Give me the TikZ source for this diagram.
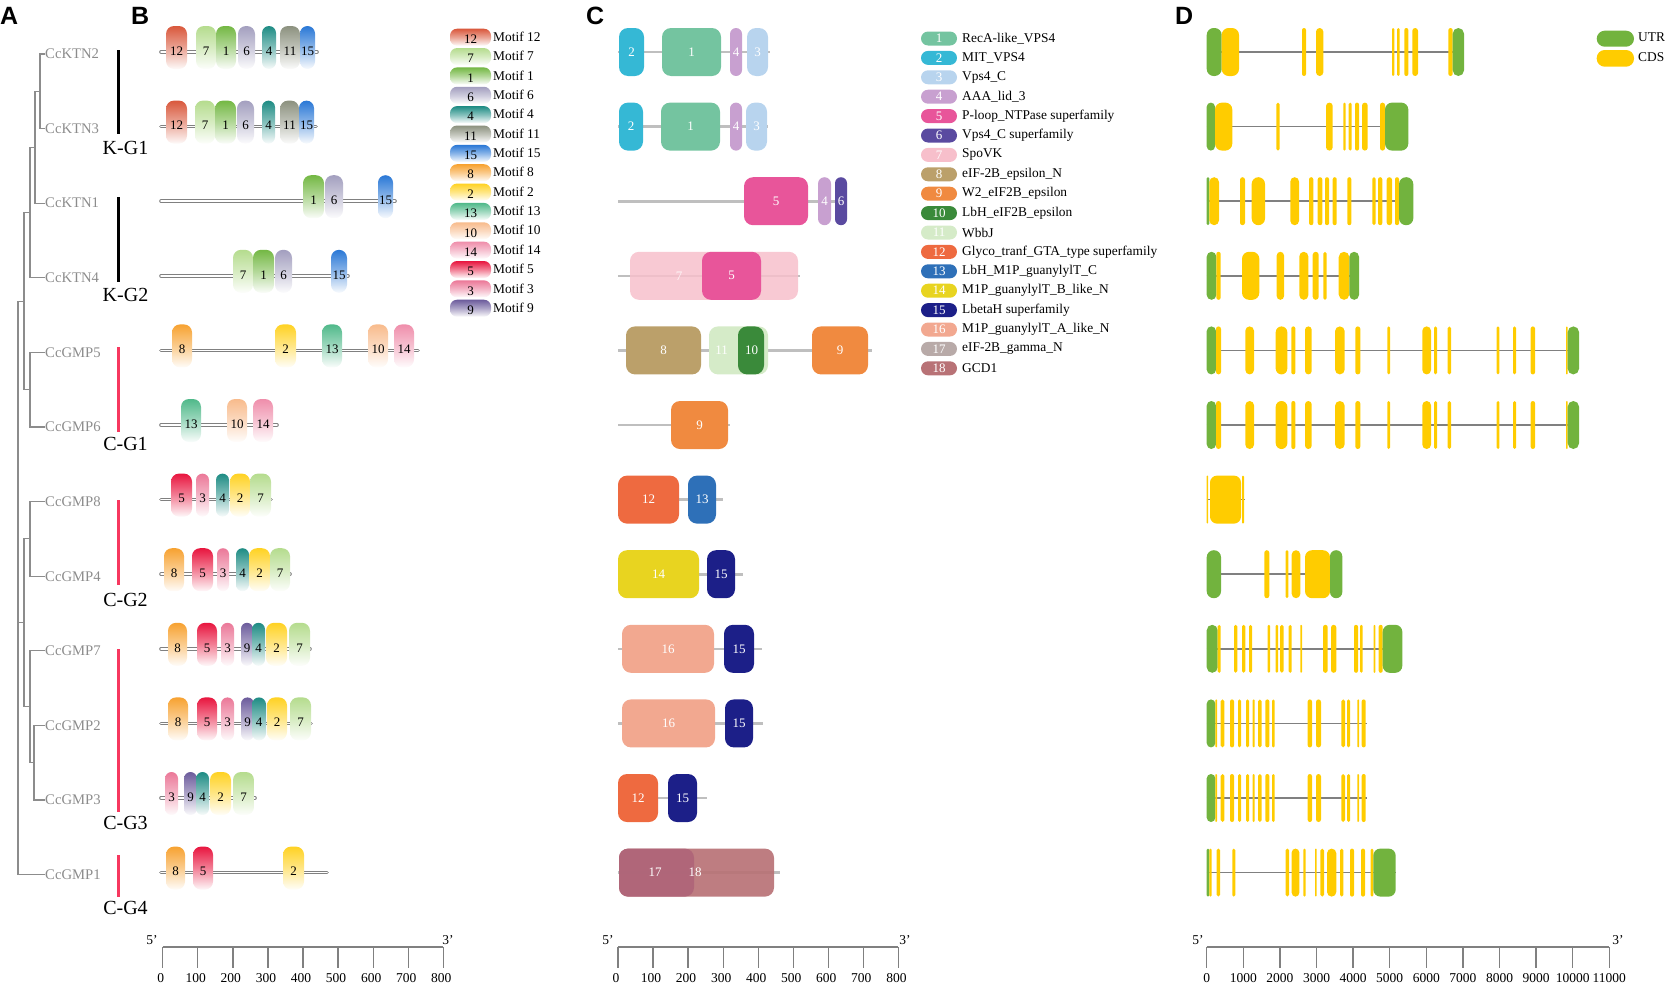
\documentclass[tikz,border=0pt]{standalone}
\usepackage{fontspec}
\setmainfont{Liberation Serif}
\newfontfamily\headfont{Liberation Sans}
% motif colours (panel B)
\definecolor{bm12}{HTML}{D9583C}
\definecolor{bm7}{HTML}{B5DC8E}
\definecolor{bm1}{HTML}{74B844}
\definecolor{bm6}{HTML}{A39FBF}
\definecolor{bm4}{HTML}{1E8C84}
\definecolor{bm11}{HTML}{8C917F}
\definecolor{bm15}{HTML}{2A78D6}
\definecolor{bm8}{HTML}{F7A231}
\definecolor{bm2}{HTML}{FFD223}
\definecolor{bm13}{HTML}{50B98A}
\definecolor{bm10}{HTML}{F8BB8C}
\definecolor{bm14}{HTML}{EF8EAB}
\definecolor{bm5}{HTML}{E8163F}
\definecolor{bm3}{HTML}{EB7898}
\definecolor{bm9}{HTML}{6C5C9C}
% domain colours (panel C)
\definecolor{cd1}{HTML}{74C4A0}
\definecolor{cd2}{HTML}{35B8D5}
\definecolor{cd3}{HTML}{B8D4EE}
\definecolor{cd4}{HTML}{C8A0D0}
\definecolor{cd5}{HTML}{E8559A}
\definecolor{cd6}{HTML}{5A4AA0}
\definecolor{cd7}{HTML}{F7BFCB}
\definecolor{cd8}{HTML}{BBA06A}
\definecolor{cd9}{HTML}{F08A40}
\definecolor{cd10}{HTML}{3A8A3A}
\definecolor{cd11}{HTML}{D5EBC8}
\definecolor{cd12}{HTML}{EE6A40}
\definecolor{cd13}{HTML}{2E70B8}
\definecolor{cd14}{HTML}{E8D420}
\definecolor{cd15}{HTML}{1C1F88}
\definecolor{cd16}{HTML}{F2A890}
\definecolor{cd17}{HTML}{B8AAA8}
\definecolor{cd18}{HTML}{B87276}
\definecolor{cd17b}{HTML}{AF6579}
% gene structure (panel D)
\definecolor{utr}{HTML}{72B33E}
\definecolor{cds}{HTML}{FFCC00}
\definecolor{treegray}{HTML}{8C8C8C}
\definecolor{grpred}{HTML}{F7385F}
\newcount\nid
\newcommand{\mtf}[5]{%
  \pgfmathsetmacro\rr{min(8,(#2-#1)/2)}%
  \shade[top color=#4, bottom color=#4!3, middle color=#4!55, rounded corners=\rr pt] (#1,#3-26) rectangle (#2,#3+17);%
  \global\advance\nid by 1 \edef\nn{m\the\nid}%
  \node[mtxt] (\nn) at ({(#1+#2)/2},#3-1) {#5};%
}
\newcommand{\dombox}[4]{%
  \pgfmathsetmacro\rr{min(9,(#2-#1)/2)}%
  \fill[#4, rounded corners=\rr pt] (#1,#3-24) rectangle (#2,#3+24);%
}
\newcommand{\domlab}[3]{%
  \global\advance\nid by 1 \edef\nn{d\the\nid}%
  \node[dtxt] (\nn) at (#1,#2) {#3};%
}
\newcommand{\dom}[6]{\dombox{#1}{#2}{#3}{#4}\domlab{#6}{#3}{#5}}
\newcommand{\ex}[4]{%
  \pgfmathsetmacro\rr{min(7,(#3-#2)/2)}%
  \fill[#4, rounded corners=\rr pt] (#2,#1-24) rectangle (#3,#1+24);%
}
\begin{document}
\begin{tikzpicture}[x=1pt,y=-1pt,
  panel/.style={font=\headfont\bfseries\fontsize{25}{25}\selectfont, inner sep=0pt, anchor=base west},
  leaf/.style={font=\fontsize{14.7}{15}\selectfont, text=treegray, inner sep=0pt, anchor=west},
  tree/.style={draw=treegray, line width=1.1pt},
  grp/.style={font=\fontsize{20}{20}\selectfont, inner sep=0pt},
  kbar/.style={draw=black, line width=3pt},
  cbar/.style={draw=grpred, line width=3pt},
  mtxt/.style={font=\fontsize{13}{13}\selectfont, inner sep=0pt, text=black},
  dtxt/.style={font=\fontsize{13}{13}\selectfont, inner sep=0pt, text=white},
  legtxt/.style={font=\fontsize{13.4}{14}\selectfont, inner sep=0pt, anchor=west},
  prot/.style={draw=black!50, line width=1pt, double=white, double distance=1.6pt, line cap=round},
  cline/.style={draw=black!25, line width=2.6pt},
  gene/.style={draw=black!50, line width=1.5pt},
  axis/.style={draw=black!50, line width=1.3pt},
  ticktxt/.style={font=\fontsize{13.5}{14}\selectfont, inner sep=0pt}]
\useasboundingbox (0,0) rectangle (1669,988);

% ---------- panel letters ----------
\node[panel] (pA) at (0,24) {A};
\node[panel] (pB) at (131,24) {B};
\node[panel] (pC) at (586,24) {C};
\node[panel] (pD) at (1175,24) {D};

% ---------- panel A: tree ----------
\foreach \name [count=\i] in {CcKTN2,CcKTN3,CcKTN1,CcKTN4,CcGMP5,CcGMP6,CcGMP8,CcGMP4,CcGMP7,CcGMP2,CcGMP3,CcGMP1}
  \node[leaf] (l\i) at (45,{54+74.6*(\i-1)}) {\name};
\coordinate (a1) at (40,91.3);
\coordinate (a2) at (35,147.3);
\coordinate (a3) at (30,212.5);
\coordinate (a4) at (30,389.7);
\coordinate (a5) at (24,301.1);
\coordinate (a6) at (30,538.9);
\coordinate (a7) at (34,762.7);
\coordinate (a8) at (30,706.8);
\coordinate (a9) at (24,622.8);
\coordinate (a10) at (18,301.1);
\draw[tree] (l1.west) -| (a1) |- (l2.west);
\draw[tree] (a1) -| (a2) |- (l3.west);
\draw[tree] (a2) -| (a3) |- (l4.west);
\draw[tree] (l5.west) -| (a4) |- (l6.west);
\draw[tree] (a3) -| (a5) |- (a4);
\draw[tree] (l7.west) -| (a6) |- (l8.west);
\draw[tree] (l10.west) -| (a7) |- (l11.west);
\draw[tree] (l9.west) -| (a8) |- (a7);
\draw[tree] (a6) -| (a9) |- (a8);
\draw[tree] (a5) -- (a10) |- (l12.west);
\draw[tree] (a9) -- (a9 -| a10);

% group bars
\draw[kbar] (118,50) -- (118,134);
\node[grp] (g1) at (125.5,148) {K-G1};
\draw[kbar] (118,197) -- (118,282);
\node[grp] (g2) at (125.5,295) {K-G2};
\draw[cbar] (118,347) -- (118,432);
\node[grp] (g3) at (125.5,444) {C-G1};
\draw[cbar] (118,500) -- (118,585);
\node[grp] (g4) at (125.5,600) {C-G2};
\draw[cbar] (118,649) -- (118,812);
\node[grp] (g5) at (125.5,823) {C-G3};
\draw[cbar] (118,855) -- (118,897);
\node[grp] (g6) at (125.5,908) {C-G4};

% ---------- panel B: motifs ----------
\draw[prot] (161,52) -- (317,52);
\mtf{166}{187}{52}{bm12}{12}\mtf{196}{216}{52}{bm7}{7}\mtf{216}{236}{52}{bm1}{1}\mtf{238}{255}{52}{bm6}{6}\mtf{262}{276}{52}{bm4}{4}\mtf{280}{300}{52}{bm11}{11}\mtf{300}{315}{52}{bm15}{15}
\draw[prot] (161,126.6) -- (316,126.6);
\mtf{166}{187}{126.6}{bm12}{12}\mtf{195}{215}{126.6}{bm7}{7}\mtf{215}{236}{126.6}{bm1}{1}\mtf{237}{254}{126.6}{bm6}{6}\mtf{262}{275}{126.6}{bm4}{4}\mtf{280}{299}{126.6}{bm11}{11}\mtf{299}{314}{126.6}{bm15}{15}
\draw[prot] (161,201.2) -- (395,201.2);
\mtf{303}{324}{201.2}{bm1}{1}\mtf{325}{343}{201.2}{bm6}{6}\mtf{378}{393}{201.2}{bm15}{15}
\draw[prot] (161,275.8) -- (348,275.8);
\mtf{233}{253}{275.8}{bm7}{7}\mtf{253}{274}{275.8}{bm1}{1}\mtf{275}{292}{275.8}{bm6}{6}\mtf{331}{347}{275.8}{bm15}{15}
\draw[prot] (161,350.4) -- (418,350.4);
\mtf{172}{192}{350.4}{bm8}{8}\mtf{275}{296}{350.4}{bm2}{2}\mtf{322}{342}{350.4}{bm13}{13}\mtf{368}{388}{350.4}{bm10}{10}\mtf{394}{414}{350.4}{bm14}{14}
\draw[prot] (161,425) -- (277,425);
\mtf{181}{201}{425}{bm13}{13}\mtf{227}{247}{425}{bm10}{10}\mtf{253}{273}{425}{bm14}{14}
\draw[prot] (161,499.6) -- (271,499.6);
\mtf{171}{192}{499.6}{bm5}{5}\mtf{196}{209}{499.6}{bm3}{3}\mtf{216}{229}{499.6}{bm4}{4}\mtf{230}{250}{499.6}{bm2}{2}\mtf{250}{271}{499.6}{bm7}{7}
\draw[prot] (161,574.2) -- (290,574.2);
\mtf{164}{184}{574.2}{bm8}{8}\mtf{192}{213}{574.2}{bm5}{5}\mtf{217}{229}{574.2}{bm3}{3}\mtf{236}{249}{574.2}{bm4}{4}\mtf{249}{270}{574.2}{bm2}{2}\mtf{270}{290}{574.2}{bm7}{7}
\draw[prot] (161,648.8) -- (310,648.8);
\mtf{168}{187}{648.8}{bm8}{8}\mtf{197}{217}{648.8}{bm5}{5}\mtf{221}{234}{648.8}{bm3}{3}\mtf{241}{253}{648.8}{bm9}{9}\mtf{252}{265}{648.8}{bm4}{4}\mtf{266}{287}{648.8}{bm2}{2}\mtf{289}{310}{648.8}{bm7}{7}
\draw[prot] (161,723.4) -- (311,723.4);
\mtf{168}{188}{723.4}{bm8}{8}\mtf{197}{217}{723.4}{bm5}{5}\mtf{221}{234}{723.4}{bm3}{3}\mtf{241}{254}{723.4}{bm9}{9}\mtf{252}{266}{723.4}{bm4}{4}\mtf{267}{287}{723.4}{bm2}{2}\mtf{290}{311}{723.4}{bm7}{7}
\draw[prot] (161,798) -- (255,798);
\mtf{165}{178}{798}{bm3}{3}\mtf{184}{197}{798}{bm9}{9}\mtf{196}{209}{798}{bm4}{4}\mtf{210}{231}{798}{bm2}{2}\mtf{233}{254}{798}{bm7}{7}
\draw[prot] (161,872.6) -- (327,872.6);
\mtf{166}{185}{872.6}{bm8}{8}\mtf{193}{213}{872.6}{bm5}{5}\mtf{283}{304}{872.6}{bm2}{2}

% legend B
\foreach \c [count=\i from 0] in {12,7,1,6,4,11,15,8,2,13,10,14,5,3,9} {
  \pgfmathsetmacro\yy{36.7+19.36*\i}
  \shade[top color=bm\c, bottom color=bm\c!3, middle color=bm\c!55, rounded corners=7pt] (450,\yy-8) rectangle (491,\yy+9);
  \node[mtxt] (bl\i) at (470.5,\yy+2.5) {\c};
  \node[legtxt] (bt\i) at (493,\yy) {Motif \c};
}

% axis B
\draw[axis] (162.7,947) -- (443.3,947);
\foreach \k in {0,...,8} {
  \pgfmathtruncatemacro\lab{\k*100}
  \draw[axis] ({162.7+35.075*\k},947) -- ++(0,21);
  \node[ticktxt] (bx\k) at ({162.7+35.075*\k-2},978) {\lab};
}
\node[ticktxt] (b5p) at (152,940) {5'};
\node[ticktxt] (b3p) at (448,940) {3'};

% ---------- panel C: domains ----------
\draw[cline] (618,52) -- (770,52);
\dom{619}{644}{52}{cd2}{2}{631.5}\dom{662}{721}{52}{cd1}{1}{691.5}\dom{730}{742}{52}{cd4}{4}{736}\dom{747}{768}{52}{cd3}{3}{757.5}
\draw[cline] (618,126.6) -- (768,126.6);
\dom{619}{643}{126.6}{cd2}{2}{631}\dom{661}{720}{126.6}{cd1}{1}{690.5}\dom{730}{742}{126.6}{cd4}{4}{736}\dom{746}{767}{126.6}{cd3}{3}{756.5}
\draw[cline] (618,201.2) -- (847,201.2);
\dom{744}{808}{201.2}{cd5}{5}{776}\dom{818}{831}{201.2}{cd4}{4}{824.5}\dom{835}{847}{201.2}{cd6}{6}{841}
\draw[cline] (618,275.8) -- (800,275.8);
\begin{scope}[opacity=0.85]
\dom{630}{798}{275.8}{cd7}{7}{679}
\end{scope}
\dom{702}{761}{275.8}{cd5}{5}{731.5}
\draw[cline] (618,350.4) -- (872,350.4);
\dom{626}{701}{350.4}{cd8}{8}{663.5}\dom{709}{768}{350.4}{cd11}{11}{721.7}\dom{738}{764}{350.4}{cd10}{10}{751.5}\dom{812}{868}{350.4}{cd9}{9}{840}
\draw[cline] (618,425) -- (730,425);
\dom{671}{728}{425}{cd9}{9}{699.5}
\draw[cline] (618,499.6) -- (723,499.6);
\dom{618}{679}{499.6}{cd12}{12}{648.5}\dom{688}{716}{499.6}{cd13}{13}{702}
\draw[cline] (618,574.2) -- (743,574.2);
\dom{618}{699}{574.2}{cd14}{14}{658.5}\dom{707}{735}{574.2}{cd15}{15}{721}
\draw[cline] (618,648.8) -- (762,648.8);
\dom{622}{714}{648.8}{cd16}{16}{668}\dom{724}{754}{648.8}{cd15}{15}{739}
\draw[cline] (618,723.4) -- (763,723.4);
\dom{622}{715}{723.4}{cd16}{16}{668.5}\dom{725}{753}{723.4}{cd15}{15}{739}
\draw[cline] (618,798) -- (707,798);
\dom{618}{658}{798}{cd12}{12}{638}\dom{668}{697}{798}{cd15}{15}{682.5}
\draw[cline] (618,872.6) -- (780,872.6);
\begin{scope}[opacity=0.92]
\dombox{619}{774}{872.6}{cd18}
\dombox{619}{694}{872.6}{cd17b}
\end{scope}
\domlab{655}{872.6}{17}
\domlab{695}{872.6}{18}

% legend C
\foreach \t [count=\i] in {RecA-like\_VPS4,MIT\_VPS4,Vps4\_C,AAA\_lid\_3,P-loop\_NTPase superfamily,Vps4\_C superfamily,SpoVK,eIF-2B\_epsilon\_N,W2\_eIF2B\_epsilon,LbH\_eIF2B\_epsilon,WbbJ,Glyco\_tranf\_GTA\_type superfamily,LbH\_M1P\_guanylylT\_C,M1P\_guanylylT\_B\_like\_N,LbetaH superfamily,M1P\_guanylylT\_A\_like\_N,eIF-2B\_gamma\_N,GCD1} {
  \pgfmathsetmacro\yy{38.5+19.4*(\i-1)}
  \fill[cd\i, rounded corners=7pt] (921,\yy-7) rectangle (957,\yy+7);
  \node[dtxt] (cl\i) at (939,\yy) {\i};
  \node[legtxt] (ct\i) at (962,\yy) {\t};
}

% axis C
\draw[axis] (618,947) -- (898.4,947);
\foreach \k in {0,...,8} {
  \pgfmathtruncatemacro\lab{\k*100}
  \draw[axis] ({618+35.05*\k},947) -- ++(0,21);
  \node[ticktxt] (cx\k) at ({618+35.05*\k-2},978) {\lab};
}
\node[ticktxt] (c5p) at (608,940) {5'};
\node[ticktxt] (c3p) at (905,940) {3'};

% ---------- panel D: gene structures ----------
% row 1
\draw[gene] (1206.7,52) -- (1464,52);
\ex{52}{1206.7}{1221.7}{utr}
\foreach \a/\b in {1221.7/1239,1302/1306,1316/1323.3,1392/1394.3,1397/1399.7,1404.3/1408.3,1412.3/1418,1448.3/1452.7} {\ex{52}{\a}{\b}{cds}}
\ex{52}{1452.7}{1464}{utr}
% row 2
\draw[gene] (1206.7,126.6) -- (1408.3,126.6);
\ex{126.6}{1206.7}{1215}{utr}
\foreach \a/\b in {1215/1232.3,1276.3/1279.7,1326/1332.7,1343.3/1345.7,1348.7/1351.7,1355/1359,1362/1367.7,1380/1385} {\ex{126.6}{\a}{\b}{cds}}
\ex{126.6}{1385}{1408.3}{utr}
% row 3
\draw[gene] (1206.7,201.2) -- (1413.3,201.2);
\ex{201.2}{1206.7}{1209.3}{utr}
\foreach \a/\b in {1209.3/1219,1240/1245,1251.7/1265,1290.3/1299,1309/1313.3,1317.7/1322.3,1325/1329,1332.7/1336.7,1347.3/1351.3,1372.3/1375.7,1378/1382.3,1386.7/1392,1395/1399} {\ex{201.2}{\a}{\b}{cds}}
\ex{201.2}{1399}{1413.3}{utr}
% row 4
\draw[gene] (1206.7,275.8) -- (1359,275.8);
\ex{275.8}{1206.7}{1216.3}{utr}
\foreach \a/\b in {1216.3/1220.7,1242/1259.3,1276.7/1284,1299.3/1308.3,1312.7/1318.7,1323.3/1326.7,1338.7/1349.3} {\ex{275.8}{\a}{\b}{cds}}
\ex{275.8}{1349.3}{1359}{utr}
% rows 5 and 6
\foreach \yr in {350.4,425} {
  \draw[gene] (1206.7,\yr) -- (1579,\yr);
  \ex{\yr}{1206.7}{1216}{utr}
  \foreach \a/\b in {1216/1221,1245.3/1254,1275.7/1287.3,1291.3/1295.3,1305/1311.7,1335/1344.7,1355.3/1360.3,1387.3/1390,1422.3/1431,1434/1437,1447.7/1451,1496.7/1499.3,1513/1516,1530.7/1535,1566/1567.7} {\ex{\yr}{\a}{\b}{cds}}
  \ex{\yr}{1567.7}{1579}{utr}
}
% row 7
\draw[gene] (1206.7,499.6) -- (1245,499.6);
\foreach \a/\b in {1206.7/1208,1210/1241,1242/1244} {\ex{499.6}{\a}{\b}{cds}}
% row 8
\draw[gene] (1206.7,574.2) -- (1342.3,574.2);
\ex{574.2}{1206.7}{1221}{utr}
\foreach \a/\b in {1264.3/1269.3,1285.7/1288.3,1291.7/1300.3,1305/1330} {\ex{574.2}{\a}{\b}{cds}}
\ex{574.2}{1330}{1342.3}{utr}
% row 9
\draw[gene] (1206.7,648.8) -- (1402.3,648.8);
\ex{648.8}{1206.7}{1217.7}{utr}
\foreach \a/\b in {1217.7/1220.7,1234/1237.3,1242/1245.3,1249/1252,1267.7/1270,1275.7/1278,1280/1283.7,1288.7/1291.7,1300.3/1302,1323/1327.7,1331/1336.3,1354/1358,1360/1362.7,1373.7/1375.3,1378.7/1382.7} {\ex{648.8}{\a}{\b}{cds}}
\ex{648.8}{1382.7}{1402.3}{utr}
% rows 10 and 11
\foreach \yr in {723.4,798} {
  \draw[gene] (1206.7,\yr) -- (1366.7,\yr);
  \ex{\yr}{1206.7}{1215.3}{utr}
  \foreach \a/\b in {1215.3/1217,1220.7/1224.3,1230/1234,1238/1241,1246/1249,1252.7/1254.7,1258/1261.7,1265.3/1269.3,1272/1274.7,1307.7/1312,1316/1321,1341.3/1345,1347/1350,1357.3/1359,1361.7/1365.7} {\ex{\yr}{\a}{\b}{cds}}
}
% row 12
\draw[gene] (1206.7,872.6) -- (1395.7,872.6);
\ex{872.6}{1206.7}{1209.3}{utr}
\foreach \a/\b in {1209.3/1211.7,1216.7/1220,1232.3/1235.3,1285.7/1289,1291.7/1299.3,1303.3/1305.7,1315/1316.7,1320.3/1324,1327/1336.3,1340/1343.3,1350/1354,1361/1365,1370.7/1373.3} {\ex{872.6}{\a}{\b}{cds}}
\ex{872.6}{1373.3}{1395.7}{utr}

% legend D
\fill[utr, rounded corners=8pt] (1596.7,30.7) rectangle (1634,46.7);
\node[legtxt] (du) at (1638,37) {UTR};
\fill[cds, rounded corners=8pt] (1596.7,50) rectangle (1634,66.7);
\node[legtxt] (dc) at (1638,57) {CDS};

% axis D
\draw[axis] (1206.7,947) -- (1609.3,947);
\foreach \k in {0,...,11} {
  \pgfmathtruncatemacro\lab{\k*1000}
  \draw[axis] ({1206.7+36.6*\k},947) -- ++(0,21);
  \node[ticktxt] (dx\k) at ({1206.7+36.6*\k},978) {\lab};
}
\node[ticktxt] (d5p) at (1198,940) {5'};
\node[ticktxt] (d3p) at (1618,940) {3'};
\end{tikzpicture}
\end{document}
